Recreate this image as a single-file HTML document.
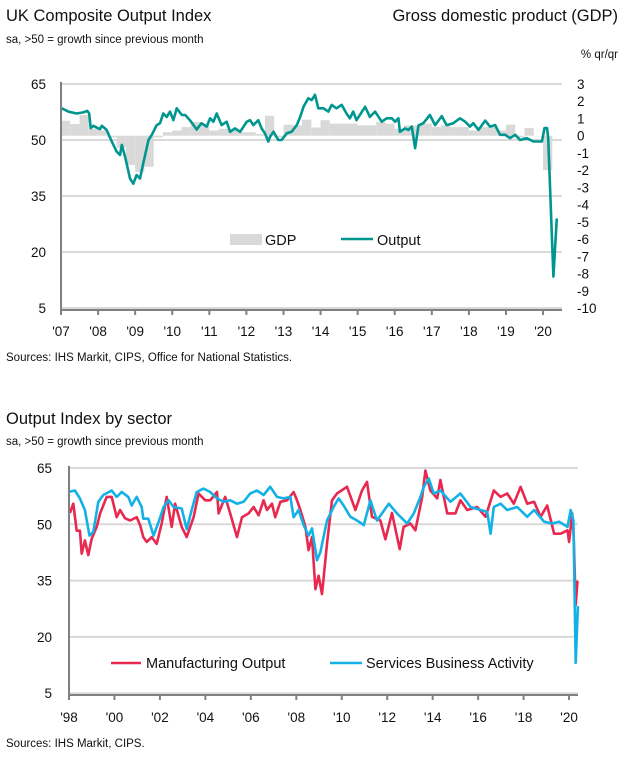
<!DOCTYPE html>
<html><head><meta charset="utf-8"><style>
body{margin:0;background:#fff;width:626px;height:761px;overflow:hidden;font-family:"Liberation Sans",sans-serif;color:#111}
svg text{font-family:"Liberation Sans",sans-serif;fill:#111}
</style></head><body>
<svg id="svg" width="626" height="761">
<text x="6" y="21" font-size="16.5">UK Composite Output Index</text>
<text x="6" y="43" font-size="11.5">sa, &gt;50 = growth since previous month</text>
<text x="618" y="21" font-size="16.5" text-anchor="end">Gross domestic product (GDP)</text>
<text x="618" y="58" font-size="11.5" text-anchor="end">% qr/qr</text>
<text x="6" y="361" font-size="11.5">Sources: IHS Markit, CIPS, Office for National Statistics.</text>
<text x="6" y="424" font-size="16.5">Output Index by sector</text>
<text x="6" y="445" font-size="11.5">sa, &gt;50 = growth since previous month</text>
<text x="6" y="747" font-size="11.5">Sources: IHS Markit, CIPS.</text>
<g id="c1"></g>
<g id="c2"></g>
</svg>
<script>
const yTicks=[65,50,35,20,5];
const gdpTicks=[3,2,1,0,-1,-2,-3,-4,-5,-6,-7,-8,-9,-10];
const years1=["'07","'08","'09","'10","'11","'12","'13","'14","'15","'16","'17","'18","'19","'20"];
const outDates=[0.02,0.20,0.42,0.60,0.71,0.76,0.80,0.87,1.05,1.10,1.23,1.37,1.50,1.59,1.64,1.73,1.86,1.95,2.04,2.13,2.22,2.36,2.45,2.58,2.67,2.76,2.85,2.94,3.03,3.12,3.26,3.35,3.48,3.66,3.79,3.93,4.02,4.11,4.20,4.33,4.47,4.56,4.69,4.83,5.01,5.10,5.19,5.32,5.41,5.50,5.59,5.64,5.73,5.86,5.95,6.09,6.22,6.36,6.45,6.54,6.67,6.76,6.85,6.94,7.08,7.21,7.30,7.43,7.57,7.70,7.79,7.88,7.97,8.20,8.33,8.47,8.65,8.78,8.92,9.01,9.10,9.14,9.28,9.37,9.46,9.55,9.64,9.77,9.95,10.09,10.27,10.40,10.58,10.76,10.90,11.03,11.12,11.26,11.44,11.57,11.71,11.84,11.98,12.11,12.25,12.38,12.56,12.74,12.88,12.97,13.04,13.11,13.14,13.28,13.37];
const outVals=[58.5,57.6,57.1,57.4,57.8,57.1,53.2,53.8,52.9,53.8,52.7,49.6,46.9,46.0,48.7,45.5,39.7,38.3,40.6,39.7,43.8,50.0,51.4,54.0,54.5,57.1,56.2,57.6,55.3,58.5,56.7,56.7,55.3,52.8,54.5,53.6,55.8,54.9,57.1,54.0,54.9,52.2,53.1,52.2,54.9,55.3,54.0,55.3,53.1,51.8,49.6,50.9,52.2,50.0,50.0,51.8,52.2,54.0,56.2,58.9,61.2,60.7,62.1,58.5,58.5,57.6,59.4,58.5,59.4,57.1,55.8,57.6,55.3,58.9,56.2,57.6,54.9,55.8,55.8,54.9,55.8,52.2,53.1,52.7,53.6,47.8,53.9,54.5,56.7,54.0,56.4,54.0,54.5,55.8,54.9,53.6,54.5,52.7,55.2,53.6,54.0,51.4,51.4,50.5,51.4,50.0,50.5,49.6,49.6,49.6,53.2,53.2,50.5,13.4,29.0];
const gdpVals=[0.87,0.68,1.2,0.4,0.3,-0.1,-0.7,-1.7,-2.1,-1.8,-0.1,0.2,0.3,0.5,0.8,0.6,0.3,0.4,0.3,0.2,0.2,0.1,1.16,-0.1,0.64,0.6,0.93,0.48,0.9,0.7,0.7,0.7,0.6,0.6,0.8,0.7,0.4,0.6,0.6,0.7,0.5,0.6,0.5,0.5,0.3,0.5,0.6,0.3,0.64,-0.1,0.45,0.0,-2.0];
const years2=["'98","'00","'02","'04","'06","'08","'10","'12","'14","'16","'18","'20"];
const mfgDates=[0.04,0.19,0.34,0.48,0.56,0.70,0.85,1.00,1.22,1.37,1.66,1.88,2.10,2.25,2.47,2.69,2.98,3.13,3.27,3.42,3.64,3.86,4.08,4.30,4.52,4.67,4.96,5.18,5.48,5.70,5.99,6.21,6.51,6.58,6.87,7.09,7.39,7.61,7.90,8.12,8.34,8.56,8.71,8.93,9.07,9.30,9.59,9.88,10.03,10.18,10.40,10.54,10.69,10.84,10.98,11.13,11.35,11.57,11.79,12.23,12.60,12.89,13.11,13.33,13.70,13.92,14.21,14.55,14.72,15.02,15.24,15.54,15.68,15.90,16.20,16.34,16.64,17.00,17.22,17.52,17.96,18.33,18.69,18.99,19.28,19.57,19.87,20.16,20.46,20.75,21.04,21.34,21.63,21.93,22.00,22.14,22.20,22.29,22.37];
const mfgVals=[53,55.5,48.3,48.3,42.2,45.7,41.8,46.2,49.3,52.9,57.3,57.3,51.9,53.8,51.6,51,51.9,49.8,46.6,45.3,46.6,44.8,50.2,57.3,49.3,55.5,49.3,46.6,51.9,58.2,56.4,56.4,58.6,52.9,57.3,52.9,46.6,51.9,52.9,54.6,52.4,56.4,53.8,55.5,51.9,56,56.4,58.6,56.4,53.8,49.3,43.1,46.6,32.7,36.3,31.4,44.8,56.4,58.2,60,53.8,59,61.3,52,51,46,53,43.4,49.3,50.2,48.4,57.3,64.3,59,56.9,61.8,52.9,52.9,56.4,53.8,54.6,52,59,57.3,58.2,55.5,60,55.5,56,52,55,47.5,47.5,48.4,45.3,52.9,47.5,28.5,35];
const svcDates=[0.04,0.26,0.48,0.70,0.90,1.07,1.29,1.51,1.88,2.10,2.32,2.61,2.76,2.98,3.20,3.27,3.49,3.72,3.94,4.16,4.38,4.60,4.96,5.18,5.40,5.62,5.92,6.21,6.51,6.80,7.09,7.39,7.68,7.97,8.27,8.56,8.85,9.15,9.44,9.74,9.88,10.10,10.32,10.54,10.69,10.91,11.06,11.35,11.64,11.86,12.08,12.38,12.67,12.97,13.26,13.55,14.07,14.43,14.88,15.17,15.46,15.61,15.83,16.05,16.34,16.78,17.22,17.67,18.11,18.40,18.55,18.69,18.99,19.28,19.72,20.16,20.46,20.90,21.26,21.56,21.93,22.07,22.19,22.29,22.39];
const svcVals=[58.7,59,56.9,53.8,47,48,56,57.8,59,57.3,58.6,57.3,55,57.3,54.6,51.5,51.5,47,50.6,54.6,56.4,54.6,54.2,48.7,53.8,58.6,59.5,58.6,56.9,56,56.4,55.5,56,58.2,59,57.8,60,57.3,56.9,57.3,51.9,53.8,49.8,47,48.9,40.4,42.6,51,54.6,56.9,55,52,51,49.8,56.4,51,55.5,52.9,50.2,52.9,57.3,60,62.2,58.2,59,56,58.2,54.6,53.8,53.3,47.5,54.6,55.5,53.8,54.6,52,53.8,50.7,50.2,50.7,49.3,53.8,51,13.1,28.2];

const NS='http://www.w3.org/2000/svg';
function mk(p,tag,at){const e=document.createElementNS(NS,tag);for(const k in at)e.setAttribute(k,at[k]);p.appendChild(e);return e;}

// Chart 1
const c1=document.getElementById('c1');
const X1=o=>61+o*37.08, Y1=v=>84+(65-v)*56/15, YR=g=>135.7-g*17.23;
yTicks.forEach(t=>{
  const l=mk(c1,'line',{x1:61,x2:562,y1:Y1(t),y2:Y1(t),stroke:'#d9d9d9','stroke-width':2});
  
  
  const tx=mk(c1,'text',{x:46,y:Y1(t)+5,'font-size':13.5,'text-anchor':'end'});tx.textContent=t;
  
  
});
gdpTicks.forEach(t=>{
  const tx=mk(c1,'text',{x:577,y:YR(t)+5,'font-size':13.5});tx.textContent=t;
  
  
});
gdpVals.forEach((g,i)=>{
  const x0=X1(i/4),x1=X1((i+1)/4);
  const r=mk(c1,'rect',{x:x0,width:x1-x0,y:Math.min(YR(g),YR(0)),height:Math.abs(YR(g)-YR(0)),fill:'#d9d9d9'});
  
  
});
let d='';outDates.forEach((o,i)=>{d+=(i?'L':'M')+X1(o).toFixed(1)+','+Y1(outVals[i]).toFixed(1);});
const p1=mk(c1,'path',{d:d,fill:'none',stroke:'#00968f','stroke-width':2.6,'stroke-linejoin':'round'});


const ax1=mk(c1,'path',{d:'M61,82V310H562',fill:'none',stroke:'#808080','stroke-width':2});


years1.forEach((y,i)=>{
  const tk=mk(c1,'line',{x1:X1(i),x2:X1(i),y1:309,y2:315,stroke:'#808080','stroke-width':2});
  
  
  const tx=mk(c1,'text',{x:X1(i),y:336,'font-size':13.5,'text-anchor':'middle'});tx.textContent=y;
  
  
});
const lg1=mk(c1,'rect',{x:230,y:234,width:32,height:11,fill:'#d9d9d9'});


const lt1=mk(c1,'text',{x:265,y:245,'font-size':14.5});lt1.textContent='GDP';


const lg2=mk(c1,'line',{x1:341,x2:373,y1:239,y2:239,stroke:'#00968f','stroke-width':2.6});


const lt2=mk(c1,'text',{x:377,y:245,'font-size':14.5});lt2.textContent='Output';



// Chart 2
const c2=document.getElementById('c2');
const X2=o=>69+o*22.73, Y2=v=>468+(65-v)*56.3/15;
yTicks.forEach(t=>{
  const l=mk(c2,'line',{x1:69,x2:578,y1:Y2(t),y2:Y2(t),stroke:'#d9d9d9','stroke-width':2});
  
  
  const tx=mk(c2,'text',{x:52,y:Y2(t)+5,'font-size':13.5,'text-anchor':'end'});tx.textContent=t;
  
  
});
function line(dates,vals,col,name){
  let d='';dates.forEach((o,i)=>{d+=(i?'L':'M')+X2(o).toFixed(1)+','+Y2(vals[i]).toFixed(1);});
  const p=mk(c2,'path',{d:d,fill:'none',stroke:col,'stroke-width':2.6,'stroke-linejoin':'round'});
  
  
}
line(mfgDates,mfgVals,'#e8284e','manufacturing-line');
line(svcDates,svcVals,'#14b1e7','services-line');
const ax2=mk(c2,'path',{d:'M69,466V695H578',fill:'none',stroke:'#808080','stroke-width':2});


years2.forEach((y,i)=>{
  const tk=mk(c2,'line',{x1:X2(i*2),x2:X2(i*2),y1:694,y2:700,stroke:'#808080','stroke-width':2});
  
  
  const tx=mk(c2,'text',{x:X2(i*2),y:722,'font-size':13.5,'text-anchor':'middle'});tx.textContent=y;
  
  
});
const lg3=mk(c2,'line',{x1:111,x2:141,y1:663,y2:663,stroke:'#e8284e','stroke-width':2.6});


const lt3=mk(c2,'text',{x:146,y:668,'font-size':14.5});lt3.textContent='Manufacturing Output';


const lg4=mk(c2,'line',{x1:330,x2:362,y1:663,y2:663,stroke:'#14b1e7','stroke-width':2.6});


const lt4=mk(c2,'text',{x:366,y:668,'font-size':14.5});lt4.textContent='Services Business Activity';


</script>
</body></html>
